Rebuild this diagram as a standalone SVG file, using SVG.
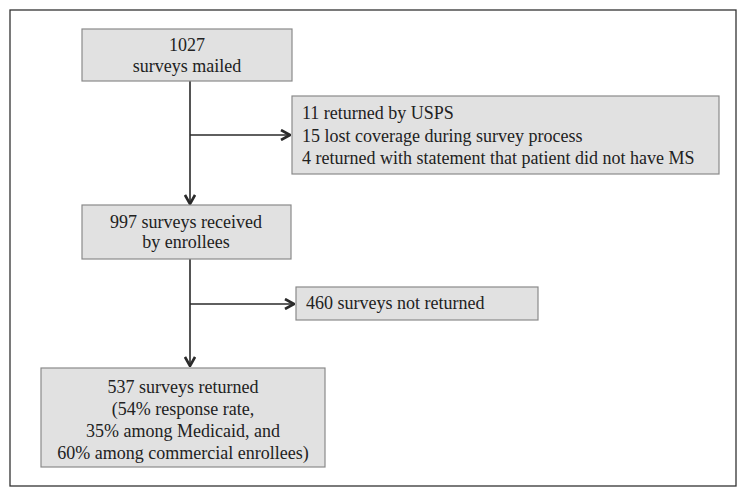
<svg xmlns="http://www.w3.org/2000/svg" width="747" height="498" viewBox="0 0 747 498">
<defs>
<style>
.box{fill:#e1e1e1;stroke:#8a8a8a;stroke-width:1.2}
.t{font-family:"Liberation Serif","Times New Roman",serif;font-size:18px;fill:#222}
.c{text-anchor:middle}
.ln{stroke:#2a2a2a;stroke-width:1.6;fill:none}
</style>
<marker id="ah" viewBox="0 0 12 12" refX="11" refY="6" markerWidth="12" markerHeight="12" markerUnits="userSpaceOnUse" orient="auto">
<path d="M2,1 L11,6 L2,11" fill="none" stroke="#2a2a2a" stroke-width="2.6"/>
</marker>
</defs>
<rect width="747" height="498" fill="#fff"/>
<rect x="10" y="10" width="726" height="476" fill="none" stroke="#333" stroke-width="1.3"/>
<g id="connectors">
<line class="ln" x1="190" y1="81" x2="190" y2="204" marker-end="url(#ah)"/>
<line class="ln" x1="190" y1="135" x2="290" y2="135" marker-end="url(#ah)"/>
<line class="ln" x1="190" y1="259" x2="190" y2="366" marker-end="url(#ah)"/>
<line class="ln" x1="190" y1="304" x2="294" y2="304" marker-end="url(#ah)"/>
</g>
<g id="n1">
<rect class="box" x="82" y="29" width="210" height="52"/>
<text class="t c" x="187" y="51">1027</text>
<text class="t c" x="187" y="72">surveys mailed</text>
</g>
<g id="n2">
<rect class="box" x="292" y="96" width="427" height="78"/>
<text class="t" x="302" y="119">11 returned by USPS</text>
<text class="t" x="302" y="142">15 lost coverage during survey process</text>
<text class="t" x="302" y="164">4 returned with statement that patient did not have MS</text>
</g>
<g id="n3">
<rect class="box" x="82" y="205" width="209" height="54"/>
<text class="t c" x="186" y="228">997 surveys received</text>
<text class="t c" x="186" y="248">by enrollees</text>
</g>
<g id="n4">
<rect class="box" x="296" y="287" width="242" height="33"/>
<text class="t" x="306" y="309">460 surveys not returned</text>
</g>
<g id="n5">
<rect class="box" x="41" y="368" width="284" height="99"/>
<text class="t c" x="183" y="393">537 surveys returned</text>
<text class="t c" x="183" y="415">(54% response rate,</text>
<text class="t c" x="183" y="437">35% among Medicaid, and</text>
<text class="t c" x="183" y="459">60% among commercial enrollees)</text>
</g>
</svg>
